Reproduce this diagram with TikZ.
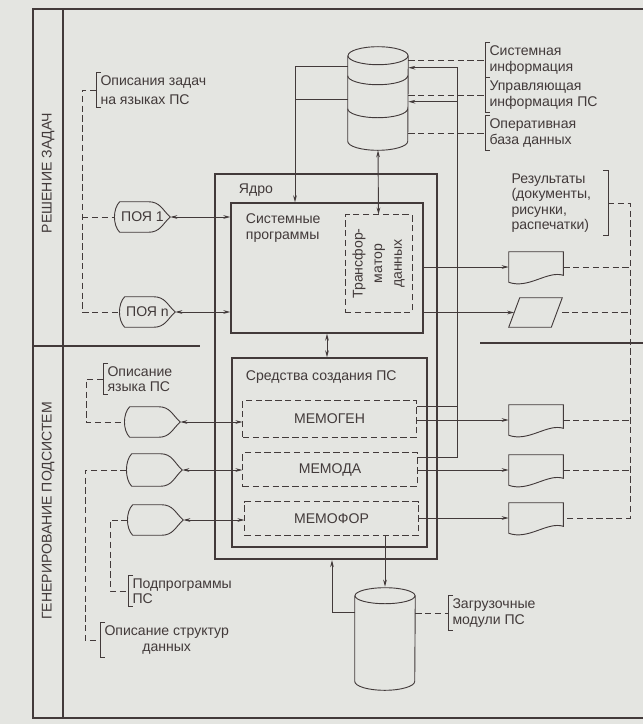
\documentclass[tikz,border=0pt]{standalone}
\usepackage{fontspec}
\setmainfont{Liberation Sans}
\usepackage{tikz}
\usetikzlibrary{positioning, arrows.meta, calc}
\definecolor{ink}{RGB}{66,58,58}
\definecolor{paper}{RGB}{228,229,225}

\begin{document}
\begin{tikzpicture}[x=0.025cm, y=-0.025cm,
    every node/.style={text=ink, font=\fontsize{10}{10.9}\selectfont},
    frame/.style={draw=ink, line width=0.9pt},
    link/.style={draw=ink, line width=0.65pt},
    dlink/.style={link, dash pattern=on 4.5pt off 2.5pt},
    arr/.style={link, -{Stealth[length=5pt, width=2.6pt]}},
    dlr/.style={link, {Stealth[length=5pt, width=2.6pt]}-{Stealth[length=5pt, width=2.6pt]}},
    corebox/.style={draw=ink, line width=1.5pt, inner sep=0pt},
    box/.style={draw=ink, line width=0.9pt, inner sep=0pt},
    dbox/.style={draw=ink, line width=0.7pt, dash pattern=on 4.5pt off 2.5pt, inner sep=0pt},
    shp/.style={inner sep=0pt},
    note/.style={align=left, inner xsep=3pt, inner ysep=2pt},
]
\fill[paper] (0,0) rectangle (643,724);

\draw[frame] (643,9) -- (33,9) -- (33,718) -- (643,718);
\draw[frame] (63,9) -- (63,718);
\draw[frame] (33,346) -- (200,346);
\draw[frame] (480,343) -- (643,343);

\node[rotate=90] (zone1) at (48,173) {РЕШЕНИЕ ЗАДАЧ};
\node[rotate=90] (zone2) at (48,511) {ГЕНЕРИРОВАНИЕ ПОДСИСТЕМ};

\node[corebox, minimum width=5.55cm, minimum height=9.625cm] (core) at (326,366.5) {};
\node[anchor=west] (coretitle) at (234,190) {Ядро};
\node[box, minimum width=4.8cm, minimum height=3.25cm] (sysprog) at (327,268) {};
\node[anchor=north west, align=left] (systitle) at (241,209) {Системные\\программы};
\node[dbox, minimum width=1.675cm, minimum height=2.425cm] (trans) at (378.5,263.5) {};
\node[rotate=90, align=center, font=\fontsize{10}{14}\selectfont] (transtxt) at (trans.center) {Трансфор-\\матор\\данных};
\node[box, minimum width=4.875cm, minimum height=4.725cm] (tools) at (329.5,452.5) {};
\node[anchor=west] (toolstitle) at (241,377) {Средства создания ПС};
\node[dbox, minimum width=4.325cm, minimum height=0.925cm] (memogen) at (329.5,419) {МЕМОГЕН};
\node[dbox, minimum width=4.35cm, minimum height=0.85cm] (memoda) at (330,469.5) {МЕМОДА};
\node[dbox, minimum width=4.325cm, minimum height=0.85cm] (memofor) at (331.5,518.5) {МЕМОФОР};

\node[shp, minimum width=1.5cm, minimum height=2.575cm] (db) at (378,98.5) {};
\node[shp, minimum width=1.5cm, minimum height=2.575cm] (dbl) at (385,638.5) {};

\node[shp, minimum width=1.375cm, minimum height=0.75cm] (poya1) at (142.5,217) {ПОЯ 1\hspace{10pt}};
\node[shp, minimum width=1.375cm, minimum height=0.75cm] (poyan) at (147.5,312) {ПОЯ n\hspace{10pt}};
\node[shp, minimum width=1.375cm, minimum height=0.75cm] (gate1) at (152.5,422) {};
\node[shp, minimum width=1.375cm, minimum height=0.8cm] (gate2) at (154.5,470) {};
\node[shp, minimum width=1.375cm, minimum height=0.75cm] (gate3) at (155.5,520) {};

\node[shp, minimum width=1.35cm, minimum height=0.75cm] (doc1) at (536,267) {};
\node[shp, minimum width=1.325cm, minimum height=0.725cm] (para) at (535.5,312.5) {};
\node[shp, minimum width=1.35cm, minimum height=0.75cm] (doc3) at (536,420) {};
\node[shp, minimum width=1.35cm, minimum height=0.75cm] (doc4) at (536,470) {};
\node[shp, minimum width=1.35cm, minimum height=0.75cm] (doc5) at (536,518) {};

\node[note, anchor=west] (lsys) at (485,60) {Системная\\информация};
\node[note, anchor=west] (lupr) at (485,95) {Управляющая\\информация ПС};
\node[note, anchor=west] (loper) at (485,133) {Оперативная\\база данных};
\node[note, anchor=west, text width=2.3cm] (lres) at (507,203) {Результаты\\(документы,\\рисунки,\\распечатки)};
\node[note, anchor=west] (ltask) at (96,90) {Описания задач\\[3pt]на языках ПС};
\node[note, anchor=west] (llang) at (103,379) {Описание\\языка ПС};
\node[note, anchor=west] (lsub) at (128,591) {Подпрограммы\\ПС};
\node[note, anchor=west, align=center] (lstruct) at (100,640) {Описание структур\\данных};
\node[note, anchor=west] (lload) at (448,613) {Загрузочные\\модули ПС};

\coordinate (drop) at (295,0);
\coordinate (riser) at (457,0);
\coordinate (back) at (332,0);
\coordinate (tbus) at (82,0);
\coordinate (lbus) at (86,0);
\coordinate (sbus) at (85,0);
\coordinate (pbus) at (110,0);
\coordinate (rail) at (630,0);
\coordinate (feedA) at ($(db.north east)+(0,21)$);
\coordinate (feedB) at ($(db.north east)+(0,55)$);
\coordinate (feedC) at ($(db.north west)+(0,20)$);
\coordinate (feedD) at ($(db.north west)+(0,53)$);

\foreach \c in {db,dbl}
  \draw[link] ($(\c.north west)+(0,9)$) -- ($(\c.south west)+(0,-9)$)
    arc[start angle=180, end angle=360, x radius=0.75cm, y radius=0.225cm]
    -- ($(\c.north east)+(0,9)$);
\draw[link] ($(db.north)+(0,9)$) ellipse [x radius=0.75cm, y radius=0.225cm];
\draw[link] ($(dbl.north)+(0,9)$) ellipse [x radius=0.75cm, y radius=0.2cm];
\foreach \h in {29,62}
  \draw[link] ($(db.north west)+(0,\h)$) arc[start angle=180, end angle=360, x radius=0.75cm, y radius=0.225cm];

\foreach \g in {poya1,poyan,gate1,gate2,gate3}
  \draw[link] ($(\g.north west)+(5,0)$) -- ($(\g.north east)+(-22,0)$)
    .. controls +(12,0) and +(-8,-7) .. (\g.east)
    .. controls +(-8,7) and +(12,0) .. ($(\g.south east)+(-22,0)$)
    -- ($(\g.south west)+(5,0)$)
    .. controls +(-7,-7) and +(-7,7) .. ($(\g.north west)+(5,0)$) -- cycle;

\foreach \d in {doc1,doc3,doc4,doc5}
  \draw[link] (\d.south west) -- (\d.north west) -- (\d.north east) -- ($(\d.south east)+(0,-7)$)
    .. controls +(-16,-5) and +(20,7) .. (\d.south west);
\draw[link] (para.south west) -- ($(para.north west)+(11,0)$) -- (para.north east)
  -- ($(para.south east)+(-11,0)$) -- cycle;

\foreach \n in {lsys,lupr,loper,ltask,llang,lsub,lstruct,lload}
  \draw[link] ($(\n.north west)+(5,0)$) -- (\n.north west) -- (\n.south west) -- ($(\n.south west)+(5,0)$);
\draw[link] ($(lres.north east)+(-5,0)$) -- (lres.north east) -- (lres.south east) -- ($(lres.south east)+(-5,0)$);

\foreach \n in {lsys,lupr,loper}
  \draw[dlink] (db.east |- \n.west) -- (\n.west);
\draw[dlink] (dbl.east |- lload.west) -- (lload.west);
\draw[dlink] (ltask.west) -- (ltask.west -| tbus) |- (poyan.west);
\draw[dlink] (tbus |- poya1.west) -- (poya1.west);
\draw[dlink] (llang.west) -- (llang.west -| lbus) |- (gate1.west);
\draw[dlink] (gate2.west) -- (gate2.west -| sbus) |- (lstruct.west);
\draw[dlink] (gate3.west) -- (gate3.west -| pbus) |- (lsub.west);
\draw[dlink] (lres.east) -- (lres.east -| rail) |- (doc5.east);
\foreach \d in {doc1,para,doc3,doc4}
  \draw[dlink] (\d.east) -- (\d.east -| rail);

\draw[arr] (feedC) -| (drop |- sysprog.north);
\draw[link] (feedD) -- (drop |- feedD);
\draw[arr] ($(memogen.north east)+(0,6)$) -| (riser |- feedA) -- (feedA);
\draw[arr] ($(memoda.north east)+(0,5)$) -| (riser |- feedB) -- (feedB);
\draw[dlr] (db.south) -- (trans.north);
\draw[dlr] (sysprog.south) -- (sysprog.south |- tools.north);

\draw[dlr] (poya1.east) -- (poya1.east -| sysprog.west);
\draw[dlr] (poyan.east) -- (poyan.east -| sysprog.west);
\draw[dlr] (gate1.east) -- (gate1.east -| memogen.west);
\draw[dlr] (gate2.east) -- (gate2.east -| memoda.west);
\draw[dlr] (gate3.east) -- (gate3.east -| memofor.west);

\draw[arr] (doc1.west -| sysprog.east) -- (doc1.west);
\draw[arr] (para.west -| sysprog.east) -- ($(para.west)+(5.5,0)$);
\draw[arr] (doc3.west -| memogen.east) -- (doc3.west);
\draw[arr] (doc4.west -| memoda.east) -- (doc4.west);
\draw[arr] (doc5.west -| memofor.east) -- (doc5.west);

\draw[arr] (dbl.north |- memofor.south) -- (dbl.north);
\draw[arr] ($(dbl.north west)+(0,26)$) -| (back |- core.south);
\end{tikzpicture}
\end{document}
